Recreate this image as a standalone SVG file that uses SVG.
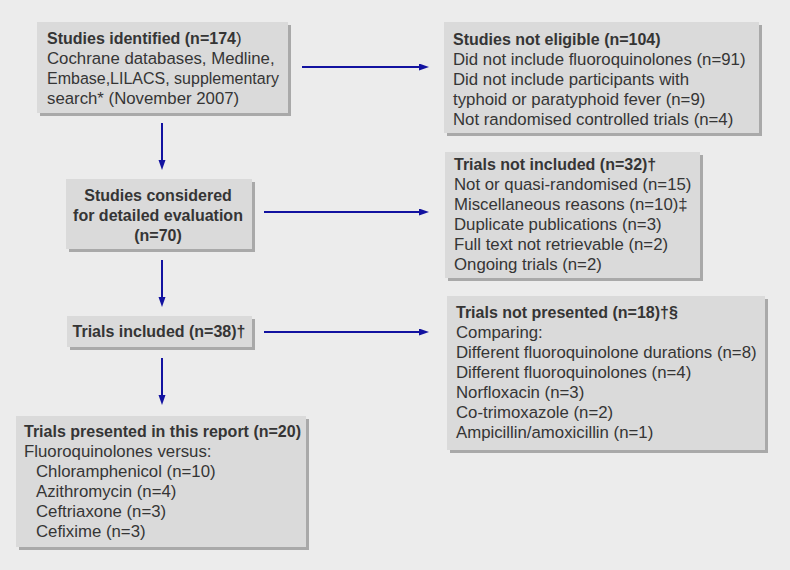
<svg xmlns="http://www.w3.org/2000/svg" width="790" height="570" viewBox="0 0 790 570">
<defs>
<style>
.bg{fill:#ececec}
.shadow{fill:#a9a9a9}
.box{fill:#dadada}
text{font-family:"Liberation Sans",Arial,sans-serif;font-size:16.8px;fill:#353535}
.b{font-weight:bold;font-size:16px}
.c{text-anchor:middle}
.conn line{stroke:#1212a0;stroke-width:2;fill:none}
</style>
<marker id="ah" markerUnits="userSpaceOnUse" markerWidth="11" markerHeight="8" refX="2" refY="3.5" orient="auto">
<path d="M0,0 L10,3.5 L0,7 z" fill="#1212a0"/>
</marker>
</defs>
<rect class="bg" x="0" y="0" width="790" height="570"/>

<g id="identified">
<rect class="shadow" x="40" y="25" width="251" height="91"/>
<rect class="box" x="37" y="22" width="251" height="91"/>
<text x="47" y="44"><tspan class="b">Studies identified (n=174</tspan>)</text>
<text x="47" y="64">Cochrane databases, Medline,</text>
<text x="47" y="84" textLength="232" lengthAdjust="spacingAndGlyphs">Embase,LILACS, supplementary</text>
<text x="47" y="104">search* (November 2007)</text>
</g>

<g id="not-eligible">
<rect class="shadow" x="447" y="25" width="315" height="111"/>
<rect class="box" x="444" y="22" width="315" height="111"/>
<text class="b" x="453" y="45">Studies not eligible (n=104)</text>
<text x="453" y="65">Did not include fluoroquinolones (n=91)</text>
<text x="453" y="85">Did not include participants with</text>
<text x="453" y="105">typhoid or paratyphoid fever (n=9)</text>
<text x="453" y="125">Not randomised controlled trials (n=4)</text>
</g>

<g id="considered">
<rect class="shadow" x="69" y="182" width="186" height="70"/>
<rect class="box" x="66" y="179" width="186" height="70"/>
<text class="b c" x="158" y="201">Studies considered</text>
<text class="b c" x="158" y="221">for detailed evaluation</text>
<text class="b c" x="158" y="241">(n=70)</text>
</g>

<g id="not-included">
<rect class="shadow" x="448" y="155" width="255" height="126"/>
<rect class="box" x="445" y="152" width="255" height="126"/>
<text class="b" x="454" y="170">Trials not included (n=32)†</text>
<text x="454" y="190">Not or quasi-randomised (n=15)</text>
<text x="454" y="210">Miscellaneous reasons (n=10)‡</text>
<text x="454" y="230">Duplicate publications (n=3)</text>
<text x="454" y="250">Full text not retrievable (n=2)</text>
<text x="454" y="270">Ongoing trials (n=2)</text>
</g>

<g id="included">
<rect class="shadow" x="70" y="319" width="185" height="31"/>
<rect class="box" x="67" y="316" width="185" height="31"/>
<text class="b c" x="159" y="337">Trials included (n=38)†</text>
</g>

<g id="not-presented">
<rect class="shadow" x="450" y="299" width="318" height="154"/>
<rect class="box" x="447" y="296" width="318" height="154"/>
<text class="b" x="456" y="318">Trials not presented (n=18)†§</text>
<text x="456" y="338">Comparing:</text>
<text x="456" y="358">Different fluoroquinolone durations (n=8)</text>
<text x="456" y="378">Different fluoroquinolones (n=4)</text>
<text x="456" y="398">Norfloxacin (n=3)</text>
<text x="456" y="418">Co-trimoxazole (n=2)</text>
<text x="456" y="438">Ampicillin/amoxicillin (n=1)</text>
</g>

<g id="presented">
<rect class="shadow" x="19" y="419" width="290" height="131"/>
<rect class="box" x="16" y="416" width="290" height="131"/>
<text class="b" x="24" y="437">Trials presented in this report (n=20)</text>
<text x="24" y="457">Fluoroquinolones versus:</text>
<text x="36" y="477">Chloramphenicol (n=10)</text>
<text x="36" y="497">Azithromycin (n=4)</text>
<text x="36" y="517">Ceftriaxone (n=3)</text>
<text x="36" y="537">Cefixime (n=3)</text>
</g>

<g id="connectors" class="conn">
<line x1="302" y1="67" x2="421" y2="67" marker-end="url(#ah)"/>
<line x1="264" y1="212" x2="421" y2="212" marker-end="url(#ah)"/>
<line x1="264" y1="332" x2="421" y2="332" marker-end="url(#ah)"/>
<line x1="162" y1="123" x2="162" y2="162" marker-end="url(#ah)"/>
<line x1="162" y1="260" x2="162" y2="299" marker-end="url(#ah)"/>
<line x1="162" y1="358" x2="162" y2="397" marker-end="url(#ah)"/>
</g>
</svg>
